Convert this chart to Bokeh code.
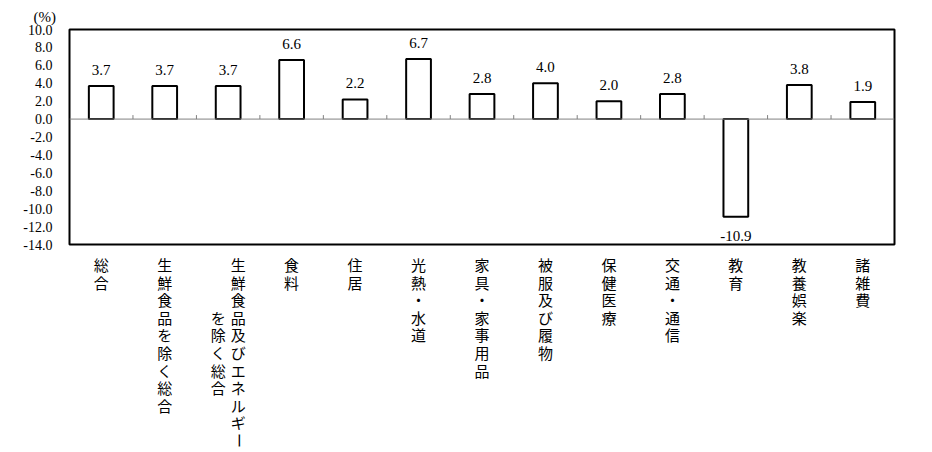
import math
from bokeh.plotting import figure
from bokeh.layouts import column
from bokeh.models import (FactorRange, Range1d, ColumnDataSource, LabelSet, Span,
                          FixedTicker, PrintfTickFormatter)
from bokeh.core.properties import value
from bokeh.embed import file_html
from bokeh.resources import INLINE

# ---------------- data ----------------
categories = ["総合", "生鮮食品を除く総合", "生鮮食品及びエネルギーを除く総合", "食料", "住居",
              "光熱・水道", "家具・家事用品", "被服及び履物", "保健医療", "交通・通信",
              "教育", "教養娯楽", "諸雑費"]
category_labels = ["総合", "生鮮食品を除く総合", "生鮮食品及びエネルギー\n　　　を除く総合", "食料", "住居",
                   "光熱・水道", "家具・家事用品", "被服及び履物", "保健医療", "交通・通信",
                   "教育", "教養娯楽", "諸雑費"]
values = [3.7, 3.7, 3.7, 6.6, 2.2, 6.7, 2.8, 4.0, 2.0, 2.8, -10.9, 3.8, 1.9]
y_ticks = [-14, -12, -10, -8, -6, -4, -2, 0, 2, 4, 6, 8, 10]
unit_label = "(%)"

# ---------------- layout constants ----------------
W = 916
TOTAL_H = 448
BL, BR, BT = 69, 22, 29
FRAME_H = 215
TOP_BB = 10
TOP_H = BT + FRAME_H + TOP_BB
BOT_H = TOTAL_H - TOP_H
y_min, y_max = min(y_ticks), max(y_ticks)
px_to_data = (y_max - y_min) / FRAME_H

SERIF = "Liberation Serif"
CJK = "Noto Sans CJK JP"

xr = FactorRange(*categories)

p = figure(width=W, height=TOP_H, x_range=xr, y_range=Range1d(y_min, y_max),
           output_backend="svg", toolbar_location=None,
           min_border_left=BL, min_border_right=BR, min_border_top=BT, min_border_bottom=TOP_BB)
p.xaxis.visible = False
p.xgrid.visible = False
p.ygrid.visible = False
p.outline_line_color = "black"
p.outline_line_width = 2
p.outline_line_alpha = 1.0
p.background_fill_color = "white"
p.border_fill_color = "white"

p.title.text = unit_label
p.title.align = "left"
p.title.offset = -36
p.title.standoff = 10
p.title.text_font = SERIF
p.title.text_font_size = "15px"
p.title.text_font_style = "normal"
p.title.text_color = "black"

ya = p.yaxis[0]
ya.ticker = FixedTicker(ticks=y_ticks)
ya.formatter = PrintfTickFormatter(format="%.1f")
ya.axis_line_color = None
ya.major_tick_line_color = None
ya.minor_tick_line_color = None
ya.major_tick_out = 0
ya.major_tick_in = 0
ya.major_label_standoff = 17
ya.major_label_text_font = SERIF
ya.major_label_text_font_size = "14px"
ya.major_label_text_font_style = "normal"
ya.major_label_text_color = "black"

# zero line and category separator ticks
p.add_layout(Span(location=0, dimension="width", line_color="#808080", line_width=1))
bounds = list(range(1, len(categories)))
p.segment(x0=bounds, y0=[0] * len(bounds), x1=bounds, y1=[4 * px_to_data] * len(bounds),
          line_color="#808080", line_width=1)

# bars
p.vbar(x=categories, top=values, bottom=0, width=0.39,
       fill_color="white", line_color="black", line_width=2)

# value labels
pos = ColumnDataSource(dict(x=[c for c, v in zip(categories, values) if v >= 0],
                            y=[v for v in values if v >= 0],
                            t=[f"{v:.1f}" for v in values if v >= 0]))
neg = ColumnDataSource(dict(x=[c for c, v in zip(categories, values) if v < 0],
                            y=[v for v in values if v < 0],
                            t=[f"{v:.1f}" for v in values if v < 0]))
p.add_layout(LabelSet(x="x", y="y", text="t", source=pos, text_align="center",
                      text_baseline="bottom", y_offset=11, text_font=SERIF,
                      text_font_size="15px", text_color="black"))
p.add_layout(LabelSet(x="x", y="y", text="t", source=neg, text_align="center",
                      text_baseline="top", y_offset=-14, text_font=SERIF,
                      text_font_size="15px", text_color="black"))

# ---------------- category label strip (vertical text) ----------------
q = figure(width=W, height=BOT_H, x_range=xr, y_range=Range1d(BOT_H, 0),
           output_backend="svg", toolbar_location=None,
           min_border_left=BL, min_border_right=BR, min_border_top=0, min_border_bottom=0)
q.axis.visible = False
q.grid.visible = False
q.outline_line_color = None
q.background_fill_color = "white"
q.border_fill_color = "white"

FIRST_ROW = 264 - TOP_H
ROW_STEP = 17.6
COL_STEP = 20
cx, cy, cxo, ct, ca = [], [], [], [], []
for cat, lab in zip(categories, category_labels):
    cols = lab.split("\n")
    n = len(cols)
    for j, col in enumerate(cols):
        xo = ((n - 1) / 2 - j) * COL_STEP
        for k, ch in enumerate(col):
            if not ch.strip():
                continue
            cx.append(cat)
            cy.append(FIRST_ROW + k * ROW_STEP)
            cxo.append(xo)
            ct.append(ch)
            ca.append(math.pi / 2 if ch == "ー" else 0.0)
chars = ColumnDataSource(dict(x=cx, y=cy, xo=cxo, t=ct, a=ca))
q.text(x="x", y="y", text="t", x_offset="xo", angle="a", source=chars,
       text_align="center", text_baseline="middle", text_font=value(CJK),
       text_font_size="15px", text_color="black")

layout = column(p, q, spacing=0)
open("out.html", "w").write(file_html(layout, INLINE))
